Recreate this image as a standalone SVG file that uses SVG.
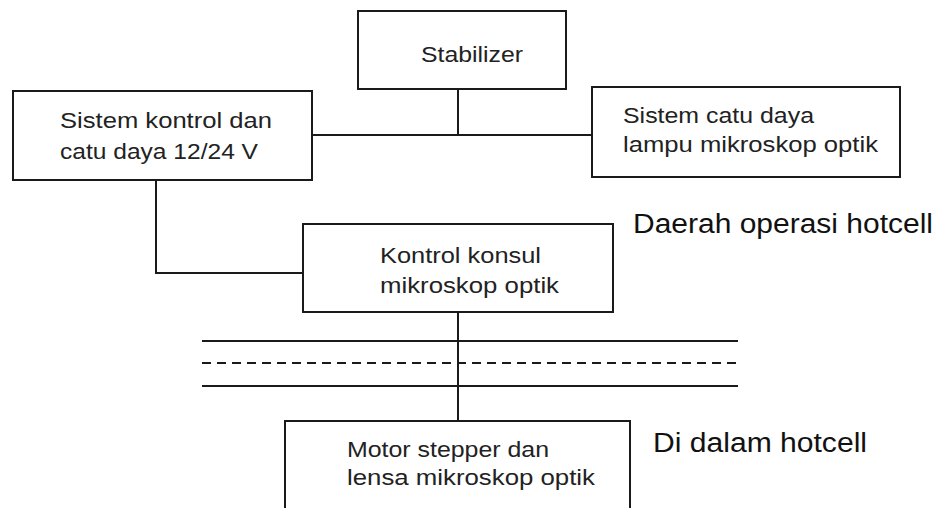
<svg xmlns="http://www.w3.org/2000/svg" width="936" height="508" viewBox="0 0 936 508">
<style>
.box{fill:#fff;stroke:#1a1a1a;stroke-width:2}
.ln{fill:none;stroke:#1a1a1a;stroke-width:2}
.dash{fill:none;stroke:#1a1a1a;stroke-width:2;stroke-dasharray:9 6}
.t{font-family:"Liberation Sans",Arial,sans-serif;font-size:22px;fill:#222}
.big{font-family:"Liberation Sans",Arial,sans-serif;font-size:27px;fill:#111}
</style>
<rect width="936" height="508" fill="#fff"/>
<g id="connectors">
<path class="ln" d="M458 89V135M312 135H592"/>
<path class="ln" d="M156 180V273H303"/>
<path class="ln" d="M458 312V421"/>
<path class="ln" d="M202 341H738M202 386H738"/>
<path class="dash" d="M202 363H738"/>
</g>
<g id="stabilizer">
<rect class="box" x="358" y="11" width="208" height="78"/>
<text class="t" x="421" y="62" textLength="102" lengthAdjust="spacingAndGlyphs">Stabilizer</text>
</g>
<g id="sistem-kontrol">
<rect class="box" x="13" y="91" width="299" height="89"/>
<text class="t" x="60" y="128" textLength="212" lengthAdjust="spacingAndGlyphs">Sistem kontrol dan</text>
<text class="t" x="60" y="159" textLength="198" lengthAdjust="spacingAndGlyphs">catu daya 12/24 V</text>
</g>
<g id="sistem-catu-daya">
<rect class="box" x="592" y="87" width="308" height="90"/>
<text class="t" x="623" y="123" textLength="191" lengthAdjust="spacingAndGlyphs">Sistem catu daya</text>
<text class="t" x="623" y="152" textLength="255" lengthAdjust="spacingAndGlyphs">lampu mikroskop optik</text>
</g>
<g id="kontrol-konsul">
<rect class="box" x="303" y="224" width="310" height="88"/>
<text class="t" x="380" y="263" textLength="161" lengthAdjust="spacingAndGlyphs">Kontrol konsul</text>
<text class="t" x="380" y="293" textLength="179" lengthAdjust="spacingAndGlyphs">mikroskop optik</text>
</g>
<g id="motor-stepper">
<path class="box" d="M285 510V421H630V510"/>
<text class="t" x="347" y="457" textLength="202" lengthAdjust="spacingAndGlyphs">Motor stepper dan</text>
<text class="t" x="347" y="485" textLength="248" lengthAdjust="spacingAndGlyphs">lensa mikroskop optik</text>
</g>
<g id="labels">
<text class="big" x="633" y="233" textLength="300" lengthAdjust="spacingAndGlyphs">Daerah operasi hotcell</text>
<text class="big" x="653" y="452" textLength="214" lengthAdjust="spacingAndGlyphs">Di dalam hotcell</text>
</g>
</svg>
